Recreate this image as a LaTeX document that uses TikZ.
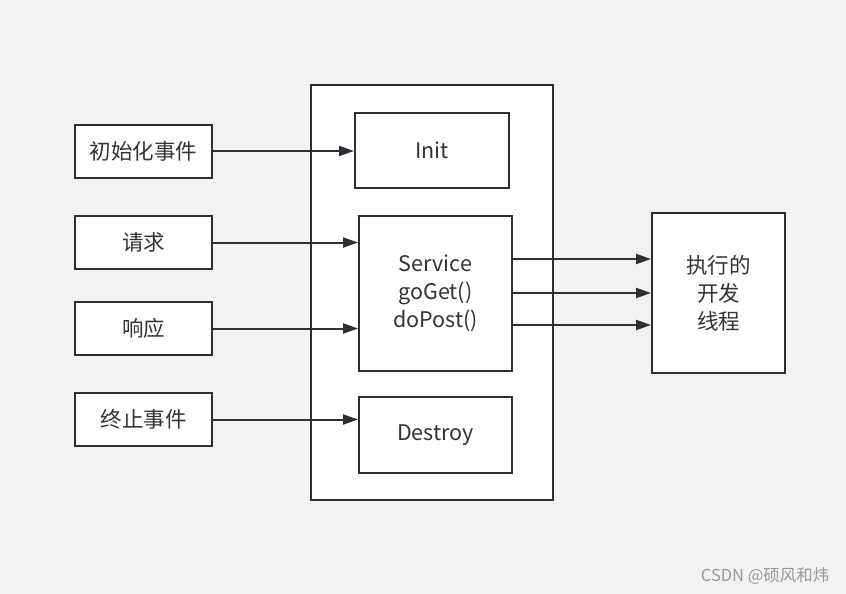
\documentclass[tikz,border=0pt]{standalone}
\usepackage{fontspec}
\setmainfont{Noto Sans CJK SC}
\usetikzlibrary{arrows.meta}
\definecolor{bgcol}{HTML}{F2F2F2}
\definecolor{linecol}{HTML}{2B3035}
\definecolor{txtcol}{HTML}{333333}
\tikzset{
	box/.style={draw=linecol, fill=white, line width=2pt, text=txtcol, font=\fontsize{21.5}{28}\selectfont, align=center, inner sep=0pt},
	link/.style={-{Triangle[length=15pt, width=10pt]}, draw=linecol, line width=2pt}
}
\begin{document}
\begin{tikzpicture}[x=1pt, y=-1pt]
		\fill[bgcol] (0,0) rectangle (846,594);
		\useasboundingbox (0,0) rectangle (846,594);
		% servlet container
		\node[box, minimum width=242pt, minimum height=415pt] (container) at (432,292.5) {};
		\node[box, minimum width=154pt, minimum height=75pt] (init) at (432,150.5) {Init};
		\node[box, minimum width=153pt, minimum height=155pt] (service) at (435.5,293.5) {Service\\goGet()\\doPost()};
		\node[box, minimum width=153pt, minimum height=76pt] (destroy) at (435.5,435) {Destroy};
		% events on the left
		\node[box, minimum width=137pt, minimum height=53pt] (initev) at (143.5,151) {初始化事件};
		\node[box, minimum width=137pt, minimum height=53pt] (req) at (143.5,242.5) {请求};
		\node[box, minimum width=137pt, minimum height=53pt] (resp) at (143.5,328.5) {响应};
		\node[box, minimum width=137pt, minimum height=53pt] (endev) at (143.5,419.5) {终止事件};
		% thread on the right
		\node[box, minimum width=133pt, minimum height=160pt] (thread) at (718.5,293) {执行的\\开发\\线程};
		\draw[link] (initev.east) -- (initev.east -| init.west);
		\draw[link] (req.east) -- (req.east -| service.west);
		\draw[link] (resp.east) -- (resp.east -| service.west);
		\draw[link] (endev.east) -- (endev.east -| destroy.west);
		\foreach \dy in {34.5,0.5,-31.5}
			\draw[link] ([yshift=\dy pt]service.east) -- ([yshift=\dy pt]service.east -| thread.west);
		\node[text=black!40, font=\fontsize{16.5}{18}\selectfont, anchor=east] (mark) at (833,576) {CSDN @硕风和炜};
		\end{tikzpicture}
\end{document}
